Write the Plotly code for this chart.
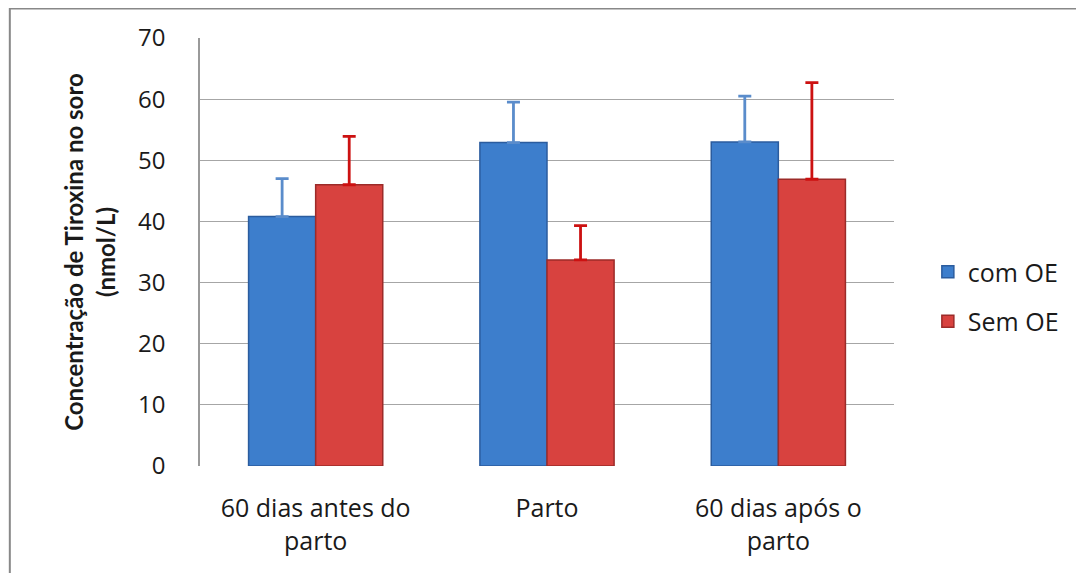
import plotly.graph_objects as go

categories = ["60 dias antes do<br>parto", "Parto", "60 dias após o<br>parto"]
com_oe = [40.8, 52.9, 53.0]
com_oe_err = [6.2, 6.6, 7.5]
sem_oe = [46.0, 33.7, 46.9]
sem_oe_err = [7.9, 5.6, 15.8]
y_ticks = [0, 10, 20, 30, 40, 50, 60, 70]

# page body has 8px default margin -> figure is offset by 8px
W, H = 1068, 565
L, R, T, B = 192, 179, 30, 107
pw, ph = W - L - R, H - T - B

font = "'Open Sans', sans-serif"
tfont = "Lato, 'Open Sans', sans-serif"

fig = go.Figure()
fig.add_trace(go.Bar(
    x=categories, y=com_oe, name="com OE", legendgroup="a",
    marker=dict(color="#3D7ECC", line=dict(color="#2B5C9E", width=1.5)),
    error_y=dict(type="data", array=com_oe_err, symmetric=False, arrayminus=[0, 0, 0],
                 color="#5A8CCB", thickness=2.8, width=6.5),
))
fig.add_trace(go.Bar(
    x=categories, y=sem_oe, name="Sem OE", legendgroup="b",
    marker=dict(color="#D8423F", line=dict(color="#9C2B29", width=1.5)),
    error_y=dict(type="data", array=sem_oe_err, symmetric=False, arrayminus=[0, 0, 0],
                 color="#CC1111", thickness=2.8, width=6.5),
))

def px(xf):
    return (xf - L) / pw

def py(yf):
    return (H - B - yf) / ph

# outer frame (left and top edges visible)
fig.add_shape(type="rect", xref="paper", yref="paper",
              x0=px(1), x1=px(W + 20), y0=py(H + 20), y1=py(0.5),
              line=dict(color="#888888", width=2), layer="below")

fig.update_layout(
    width=W, height=H,
    margin=dict(l=L, r=R, t=T, b=B),
    paper_bgcolor="white", plot_bgcolor="white",
    barmode="group", bargap=0.42, bargroupgap=0,
    font=dict(family=font, size=24, color="#1a1a1a"),
    showlegend=True,
    legend=dict(x=px(923), y=py(288.5), xanchor="left", yanchor="middle",
                font=dict(family=font, size=25, color="#1a1a1a"),
                tracegroupgap=14, itemwidth=30),
    xaxis=dict(showline=False, ticks="", showgrid=False,
               tickfont=dict(family=font, size=25), ticklabelstandoff=25),
    yaxis=dict(range=[0, 70], tickvals=y_ticks, showgrid=True, gridcolor="#A6A6A6", gridwidth=1,
               showline=True, linecolor="#9A9A9A", linewidth=1.5, ticks="",
               tickfont=dict(family=font, size=24), ticklabelstandoff=28, zeroline=False,
               title=dict(text="<b>Concentração de Tiroxina no soro<br>(nmol/L)</b>",
                          font=dict(family=tfont, size=24), standoff=16)),
)

fig.write_html("out.html")
